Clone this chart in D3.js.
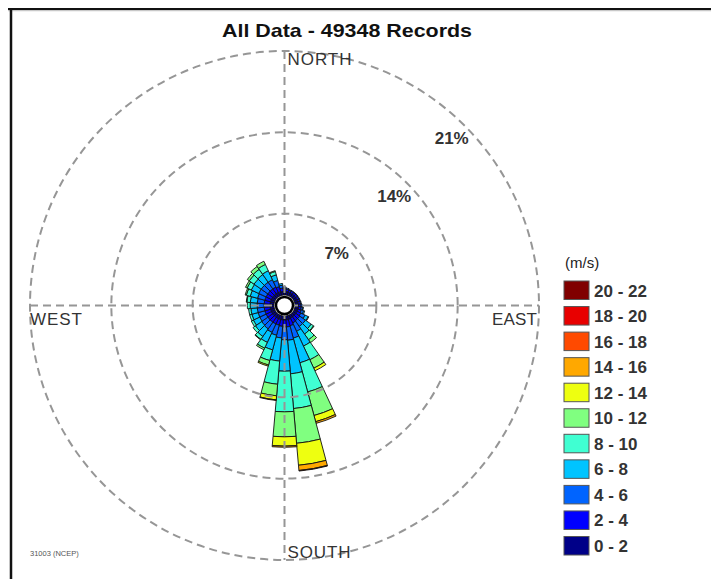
<!DOCTYPE html>
<html><head><meta charset="utf-8">
<script src="https://cdn.jsdelivr.net/npm/d3@7"></script>
<style>
html,body{margin:0;padding:0;background:#fff;}
svg{display:block;font-family:"Liberation Sans",Arial,Helvetica,sans-serif;}
</style></head><body>
<svg id="chart" width="711" height="579"></svg>
<script>
// Wind direction sectors (degrees, blowing from), 10-degree bins
const directions = d3.range(0, 360, 10);

// Speed classes (m/s) and their fill colours, slowest first
const speedLabels = ["0 - 2","2 - 4","4 - 6","6 - 8","8 - 10","10 - 12","12 - 14","14 - 16","16 - 18","18 - 20","20 - 22"];
const speedColors = ["#000088","#0000ff","#0064ff","#00c4ff","#40ffd2","#80ff80","#eeff10","#ffa800","#ff4a00","#e80000","#800000"];

// Frequency (% of records) per direction, one array per speed class
const freq0to2   = [0.30,0.30,0.28,0.28,0.28,0.28,0.28,0.28,0.29,0.30,0.30,0.30,0.30,0.30,0.30,0.30,0.35,0.35,0.35,0.35,0.35,0.35,0.35,0.35,0.35,0.35,0.35,0.35,0.35,0.35,0.35,0.35,0.35,0.35,0.33,0.30];
const freq2to4   = [0.25,0.20,0.18,0.18,0.17,0.17,0.17,0.17,0.19,0.21,0.24,0.28,0.35,0.40,0.40,0.45,0.55,0.60,0.60,0.55,0.50,0.50,0.50,0.50,0.50,0.50,0.50,0.50,0.50,0.50,0.50,0.50,0.50,0.50,0.45,0.30];
const freq4to6   = [0.15,0.10,0.06,0.05,0.05,0.05,0.05,0.06,0.07,0.10,0.15,0.22,0.40,0.60,0.60,0.80,1.10,1.15,1.10,1.00,0.90,0.80,0.70,0.65,0.60,0.60,0.60,0.60,0.60,0.65,0.70,0.70,0.70,0.70,0.55,0.25];
const freq6to8   = [0,0,0,0,0,0,0,0,0,0,0.03,0.10,0.30,0.60,0.80,1.40,2.20,2.90,2.70,2.00,1.30,0.95,0.80,0.65,0.60,0.55,0.55,0.60,0.60,0.65,0.70,0.75,0.80,0.85,0.50,0.15];
const freq8to10  = [0,0,0,0,0,0,0,0,0,0,0,0,0.05,0.25,0.60,1.30,2.60,3.00,3.50,2.00,0.95,0.55,0.30,0.25,0.20,0.20,0.20,0.25,0.30,0.35,0.40,0.50,0.55,0.60,0.30,0];
const freq10to12 = [0,0,0,0,0,0,0,0,0,0,0,0,0,0.05,0.30,0.80,2.10,3.00,2.15,1.00,0.40,0.15,0.05,0,0,0,0,0,0.05,0.10,0.15,0.20,0.30,0.30,0.07,0];
const freq12to14 = [0,0,0,0,0,0,0,0,0,0,0,0,0,0,0,0.25,0.55,1.90,0.80,0.35,0.10,0,0,0,0,0,0,0,0,0,0,0,0,0,0,0];
const freq14to16 = [0,0,0,0,0,0,0,0,0,0,0,0,0,0,0,0,0.15,0.45,0.10,0.05,0,0,0,0,0,0,0,0,0,0,0,0,0,0,0,0];
const freq16to18 = [0,0,0,0,0,0,0,0,0,0,0,0,0,0,0,0,0,0.05,0,0,0,0,0,0,0,0,0,0,0,0,0,0,0,0,0,0];
const freq18to20 = directions.map(() => 0);
const freq20to22 = directions.map(() => 0);

const speedSeries = [freq0to2,freq2to4,freq4to6,freq6to8,freq8to10,freq10to12,freq12to14,freq14to16,freq16to18,freq18to20,freq20to22];

// Ring levels and compass labels
const ringLevels = [7, 14, 21];
const ringLabels = ["7%", "14%", "21%"];
const compassLabels = ["NORTH", "EAST", "SOUTH", "WEST"];

const titleText = "All Data - 49348 Records";
const unitText = "(m/s)";
const sourceText = "31003 (NCEP)";

const svg = d3.select("#chart");
const cx = 284.5, cy = 305.5;

// Frame lines along the top and left edges
svg.append("line").attr("x1", 8).attr("x2", 711).attr("y1", 10.5).attr("y2", 10.5)
  .attr("stroke", "#c8c8c8").attr("stroke-width", 1.5);
svg.append("line").attr("x1", 8).attr("x2", 711).attr("y1", 9).attr("y2", 9)
  .attr("stroke", "#111").attr("stroke-width", 2);
svg.append("line").attr("x1", 11).attr("x2", 11).attr("y1", 8).attr("y2", 579)
  .attr("stroke", "#111").attr("stroke-width", 2.5);

svg.append("text").attr("x", 347).attr("y", 37).attr("text-anchor", "middle")
  .attr("font-size", 19).attr("font-weight", "bold").attr("fill", "#111")
  .attr("textLength", 250).attr("lengthAdjust", "spacingAndGlyphs")
  .text(titleText);

// Radial scale: a small calm hole at the centre, then linear in percent
const r = d3.scaleLinear().domain([0, 21]).range([10.5, 254.5]);
const toRad = d => d * Math.PI / 180;
const halfWidth = 5;

const g = svg.append("g").attr("transform", `translate(${cx},${cy})`);

// Stack the speed classes outward for every direction
const segments = [];
directions.forEach((dir, i) => {
  let acc = 0;
  speedSeries.forEach((series, k) => {
    const v = series[i];
    if (v > 0) {
      segments.push({dir, k, from: acc, to: acc + v});
      acc += v;
    }
  });
});

const arc = d3.arc()
  .innerRadius(d => r(d.from))
  .outerRadius(d => r(d.to))
  .startAngle(d => toRad(d.dir - halfWidth))
  .endAngle(d => toRad(d.dir + halfWidth));

g.append("g").selectAll("path").data(segments).join("path")
  .attr("d", arc)
  .attr("fill", d => speedColors[d.k])
  .attr("stroke", "#111")
  .attr("stroke-width", 0.9)
  .attr("stroke-linejoin", "round");

// Dashed grid: rings and cross-hairs
const grid = g.append("g").attr("fill", "none").attr("stroke", "#969696")
  .attr("stroke-width", 2).attr("stroke-dasharray", "8,5");
grid.selectAll("circle").data(ringLevels).join("circle").attr("r", d => r(d));
const rMax = r(21);
grid.append("line").attr("x1", -rMax).attr("x2", rMax).attr("y1", 0).attr("y2", 0);
grid.append("line").attr("x1", 0).attr("x2", 0).attr("y1", -rMax).attr("y2", rMax);

// Calm centre
g.append("circle").attr("r", 8.5).attr("fill", "#fff").attr("stroke", "#000").attr("stroke-width", 2.5);

// Ring percentage labels along the NE diagonal
g.selectAll("text.ring").data(ringLevels).join("text").attr("class", "ring")
  .attr("x", d => (r(d) - 18) * Math.SQRT1_2)
  .attr("y", d => -(r(d) - 18) * Math.SQRT1_2 + 6)
  .attr("text-anchor", "middle").attr("font-size", 17).attr("font-weight", "bold").attr("fill", "#333")
  .text((d, i) => ringLabels[i]);

// Compass labels
const lab = g.append("g").attr("font-size", 17).attr("fill", "#333");
lab.append("text").attr("x", 3).attr("y", -rMax + 14).attr("textLength", 64).text(compassLabels[0]);
lab.append("text").attr("x", rMax - 2).attr("y", 19).attr("text-anchor", "end").attr("textLength", 45).text(compassLabels[1]);
lab.append("text").attr("x", 3).attr("y", rMax - 2).attr("textLength", 63).text(compassLabels[2]);
lab.append("text").attr("x", -rMax).attr("y", 19).attr("textLength", 52).text(compassLabels[3]);

// Legend, fastest class on top
const legend = svg.append("g").attr("transform", "translate(564,0)");
legend.append("text").attr("x", 1).attr("y", 268).attr("font-size", 15).attr("fill", "#222").text(unitText);
const order = d3.range(speedLabels.length).reverse();
const ly = d3.scalePoint().domain(order).range([281, 536.5]);
const rows = legend.selectAll("g.row").data(order).join("g").attr("class", "row")
  .attr("transform", d => `translate(0,${ly(d)})`);
rows.append("rect").attr("width", 25).attr("height", 18.5)
  .attr("fill", d => speedColors[d]).attr("stroke", "#555").attr("stroke-width", 1);
rows.append("text").attr("x", 30).attr("y", 15.5).attr("font-size", 17).attr("font-weight", "bold").attr("fill", "#333")
  .text(d => speedLabels[d]);

svg.append("text").attr("x", 30).attr("y", 556).attr("font-size", 7.5).attr("fill", "#555").text(sourceText);
</script>
</body></html>
